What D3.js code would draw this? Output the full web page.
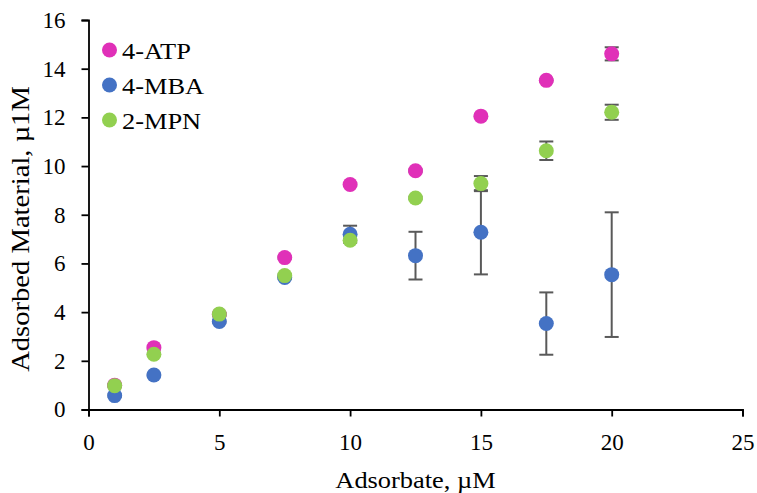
<!DOCTYPE html>
<html>
<head>
<meta charset="utf-8">
<script src="https://cdn.jsdelivr.net/npm/d3@7"></script>
<style>
  html, body { margin: 0; padding: 0; background: #fff; }
  text { font-family: "Liberation Serif", "Times New Roman", serif; fill: #000; }
</style>
</head>
<body>
<svg id="chart" width="757" height="493"></svg>
<script>
// Adsorbate concentrations (µM)
const concentrations = [1, 2.5, 5, 7.5, 10, 12.5, 15, 17.5, 20];

// Adsorbed material per adsorbate (µ1M) with standard deviations
const atpValues = [1.0, 2.54, 3.9, 6.24, 9.24, 9.81, 12.05, 13.52, 14.61];
const atpErrors = [0.05, 0.05, 0.05, 0.05, 0.05, 0.05, 0.05, 0.05, 0.27];
const mbaValues = [0.57, 1.42, 3.62, 5.42, 7.2, 6.32, 7.28, 3.53, 5.54];
const mbaErrors = [0.05, 0.05, 0.05, 0.05, 0.35, 0.98, 1.73, 1.28, 2.56];
const mpnValues = [0.98, 2.27, 3.92, 5.5, 6.95, 8.69, 9.28, 10.63, 12.21];
const mpnErrors = [0.05, 0.05, 0.05, 0.05, 0.05, 0.05, 0.31, 0.38, 0.31];

const seriesNames = ["4-ATP", "4-MBA", "2-MPN"];
const seriesColors = ["#e030b8", "#4472c4", "#92d050"];

const xTicks = [0, 5, 10, 15, 20, 25];
const yTicks = [0, 2, 4, 6, 8, 10, 12, 14, 16];

const series = [
  { name: seriesNames[0], color: seriesColors[0], values: atpValues, errors: atpErrors },
  { name: seriesNames[1], color: seriesColors[1], values: mbaValues, errors: mbaErrors },
  { name: seriesNames[2], color: seriesColors[2], values: mpnValues, errors: mpnErrors }
];

const svg = d3.select("#chart");
const W = 757, H = 493;
const margin = { left: 88.5, right: W - 742.5, top: 20, bottom: H - 409.5 };
const serif = '"Liberation Serif", "Times New Roman", serif';
const stretch = 1.1; // slightly wide lettering for legend and titles

const x = d3.scaleLinear().domain([0, 25]).range([margin.left, W - margin.right]);
const y = d3.scaleLinear().domain([0, 16]).range([H - margin.bottom, margin.top]);

// Axes
const xAxis = svg.append("g")
  .attr("transform", `translate(0,${y(0)})`)
  .call(d3.axisBottom(x).tickValues(xTicks).tickSize(7).tickPadding(17).tickFormat(d3.format("d")));
const yAxis = svg.append("g")
  .attr("transform", `translate(${x(0)},0)`)
  .call(d3.axisLeft(y).tickValues(yTicks).tickSize(7).tickPadding(16).tickFormat(d3.format("d")));

[xAxis, yAxis].forEach(g => {
  g.select(".domain").attr("stroke", "#000").attr("stroke-width", 1.8);
  g.selectAll(".tick line").attr("stroke", "#000").attr("stroke-width", 1.8);
  g.selectAll(".tick text")
    .style("font-family", serif)
    .style("font-size", "23px").attr("fill", "#000");
});

// Axis titles
svg.append("text")
  .attr("transform", `translate(${(x(0) + x(25)) / 2},488) scale(${stretch},1)`)
  .attr("text-anchor", "middle")
  .style("font-size", "24px")
  .text("Adsorbate, µM");

svg.append("text")
  .attr("transform", `translate(29,229) rotate(-90) scale(${stretch},1)`)
  .attr("text-anchor", "middle")
  .style("font-size", "26px")
  .text("Adsorbed Material, µ1M");

// Error bars, drawn beneath the markers
const capHalf = 7;
const errLayer = svg.append("g").attr("stroke", "#595959").attr("stroke-width", 2).attr("fill", "none");
series.forEach(s => {
  concentrations.forEach((c, i) => {
    const cx = x(c), lo = y(s.values[i] - s.errors[i]), hi = y(s.values[i] + s.errors[i]);
    errLayer.append("line").attr("x1", cx).attr("x2", cx).attr("y1", lo).attr("y2", hi);
    errLayer.append("line").attr("x1", cx - capHalf).attr("x2", cx + capHalf).attr("y1", lo).attr("y2", lo);
    errLayer.append("line").attr("x1", cx - capHalf).attr("x2", cx + capHalf).attr("y1", hi).attr("y2", hi);
  });
});

// Markers
series.forEach(s => {
  svg.append("g").selectAll("circle")
    .data(concentrations.map((c, i) => ({ c, v: s.values[i] })))
    .join("circle")
    .attr("cx", d => x(d.c))
    .attr("cy", d => y(d.v))
    .attr("r", 7.5)
    .attr("fill", s.color);
});

// Legend
const legend = svg.append("g");
series.forEach((s, i) => {
  const ly = 50 + i * 35;
  legend.append("circle").attr("cx", 109.5).attr("cy", ly).attr("r", 7.5).attr("fill", s.color);
  legend.append("text")
    .attr("transform", `translate(122,${ly + 9}) scale(${stretch},1)`)
    .style("font-size", "24px").text(s.name);
});
</script>
</body>
</html>
